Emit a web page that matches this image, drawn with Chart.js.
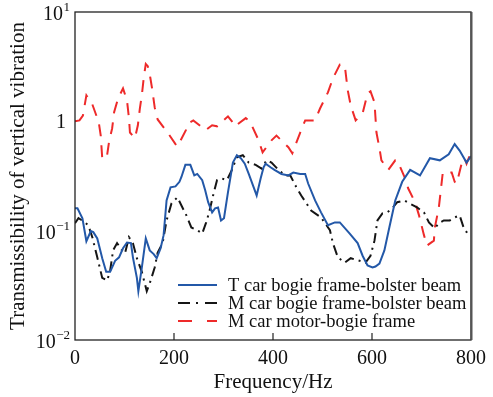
<!DOCTYPE html>
<html>
<head>
<meta charset="utf-8">
<script src="https://cdn.jsdelivr.net/npm/chart.js@4/dist/chart.umd.min.js"></script>
<style>
html,body{margin:0;padding:0;background:#fff;}
#wrap{width:493px;height:397px;position:relative;}
</style>
</head>
<body>
<div id="wrap"><canvas id="c" width="493" height="397"></canvas></div>
<script>
// ---- data ----
const seriesLabels = ['T car bogie frame-bolster beam', 'M car bogie frame-bolster beam', 'M car motor-bogie frame'];

const tFreq = [0,5,15,23,32,37,45,55,63,71,81,89,97,105,113,117,125,128,135,143,151,159,165,173,179,185,193,203,211,215,223,233,241,247,257,263,269,277,283,289,295,301,309,319,327,335,343,351,361,367,375,381,385,395,403,417,431,441,455,465,471,485,497,511,525,535,555,571,581,591,601,607,615,625,635,647,661,677,697,717,737,755,767,777,791,800];
const tVal = [0.160,0.160,0.130,0.080,0.099,0.097,0.085,0.056,0.042,0.042,0.053,0.057,0.069,0.078,0.077,0.057,0.037,0.028,0.046,0.085,0.066,0.061,0.056,0.069,0.091,0.189,0.249,0.254,0.28,0.31,0.40,0.40,0.32,0.33,0.29,0.234,0.182,0.147,0.160,0.163,0.124,0.130,0.224,0.42,0.49,0.46,0.41,0.33,0.249,0.21,0.30,0.38,0.41,0.38,0.36,0.33,0.32,0.34,0.33,0.33,0.27,0.189,0.147,0.112,0.119,0.119,0.094,0.077,0.059,0.048,0.046,0.047,0.050,0.066,0.107,0.189,0.28,0.36,0.32,0.46,0.44,0.50,0.62,0.54,0.42,0.48];

const mFreq = [0,7,17,27,35,45,55,65,71,77,85,95,101,109,117,125,135,145,151,161,167,177,185,195,207,215,225,235,247,257,265,271,279,287,297,307,317,327,339,351,365,377,387,397,411,425,435,445,457,477,497,515,521,531,545,557,575,587,597,605,611,621,631,641,651,665,675,691,705,715,727,735,745,757,767,777,785,795];
const mVal = [0.117,0.130,0.122,0.112,0.087,0.057,0.037,0.035,0.043,0.066,0.077,0.066,0.062,0.087,0.077,0.056,0.042,0.028,0.033,0.046,0.063,0.077,0.124,0.178,0.202,0.170,0.138,0.107,0.101,0.094,0.119,0.147,0.210,0.29,0.30,0.29,0.36,0.47,0.49,0.42,0.40,0.37,0.44,0.42,0.36,0.32,0.32,0.26,0.21,0.153,0.132,0.101,0.077,0.057,0.051,0.056,0.053,0.051,0.059,0.081,0.124,0.144,0.147,0.160,0.182,0.189,0.178,0.163,0.147,0.119,0.105,0.117,0.124,0.124,0.132,0.138,0.107,0.091];

const motorFreq = [0,9,16,23,35,48,52,55,64,69,75,79,87,97,105,109,111,121,127,131,135,139,143,147,152,156,161,167,187,203,207,224,229,239,264,277,287,309,317,323,345,351,357,371,379,397,407,431,439,455,465,485,495,511,521,535,545,551,557,567,581,591,597,605,609,615,619,633,647,651,667,673,687,695,705,711,725,727,735,739,743,761,767,771,781,787,791,800];
const motorVal = [1.0,1.02,1.13,1.73,1.43,0.98,0.74,0.46,0.46,0.66,0.86,1.21,1.62,2.0,1.56,1.07,0.79,0.70,0.92,1.31,1.73,2.53,3.35,3.2,2.53,1.96,1.34,1.04,0.79,0.62,0.59,0.83,0.96,1.02,0.83,0.92,0.90,1.11,1.0,0.90,1.07,1.02,0.92,0.67,0.52,0.67,0.74,0.58,0.51,0.79,1.02,1.02,1.31,1.84,2.47,3.3,3.25,1.92,1.40,1.02,1.18,1.80,1.88,1.49,0.79,0.57,0.44,0.36,0.44,0.44,0.30,0.244,0.182,0.138,0.091,0.073,0.081,0.107,0.163,0.234,0.34,0.34,0.28,0.27,0.41,0.46,0.41,0.52];

const xTickValues = [0,200,400,600,800];
const yTickValues = [10,1,0.1,0.01];
const yTickBase = ['10','1','10','10'];
const yTickExp = ['1','','\u22121','\u22122'];
const xTitle = 'Frequency/Hz';
const yTitle = 'Transmissibility of vertical vibration';

// ---- chart ----
const FONT = "'Liberation Serif', 'Times New Roman', serif";
const pts = (f, v) => f.map((x, i) => ({x: x, y: v[i]}));

const framePlugin = {
  id: 'frame',
  afterDraw(chart) {
    const ctx = chart.ctx;
    const a = chart.chartArea;
    const xs = chart.scales.x, ys = chart.scales.y;
    ctx.save();
    // frame
    ctx.strokeStyle = '#222';
    ctx.lineWidth = 1.3;
    ctx.strokeRect(a.left, a.top, a.right - a.left, a.bottom - a.top);
    ctx.strokeStyle = '#555';
    ctx.lineWidth = 2;
    ctx.beginPath(); ctx.moveTo(a.right + 0.5, a.top); ctx.lineTo(a.right + 0.5, a.bottom); ctx.stroke();
    // inner x ticks
    ctx.strokeStyle = '#222';
    ctx.lineWidth = 1.2;
    xTickValues.forEach(v => {
      if (v === 0 || v === 800) return;
      const x = xs.getPixelForValue(v);
      ctx.beginPath(); ctx.moveTo(x, a.bottom); ctx.lineTo(x, a.bottom - 7); ctx.stroke();
    });
    // y tick labels with superscripts
    ctx.fillStyle = '#111';
    yTickValues.forEach((v, i) => {
      const y = ys.getPixelForValue(v);
      if (yTickExp[i] === '') {
        ctx.font = '20px ' + FONT;
        ctx.textAlign = 'right'; ctx.textBaseline = 'middle';
        ctx.fillText(yTickBase[i], 66, y + 1);
      } else {
        ctx.font = '13px ' + FONT;
        const ew = ctx.measureText(yTickExp[i]).width;
        const right = 70;
        ctx.textAlign = 'right'; ctx.textBaseline = 'middle';
        ctx.fillText(yTickExp[i], right, y - 4);
        ctx.font = '20px ' + FONT;
        ctx.fillText(yTickBase[i], right - ew - 0.5, y + 3);
      }
    });
    // legend
    const lx0 = 178, lx1 = 217, tx = 228;
    const rows = [285, 303, 321];
    chart.data.datasets.forEach((ds, i) => {
      const y = rows[i];
      ctx.strokeStyle = ds.borderColor;
      ctx.lineWidth = ds.borderWidth;
      ctx.setLineDash(ds.legendDash || []);
      ctx.beginPath(); ctx.moveTo(lx0, y); ctx.lineTo(lx1, y); ctx.stroke();
      ctx.setLineDash([]);
      ctx.fillStyle = '#111';
      ctx.font = '18.5px ' + FONT;
      ctx.textAlign = 'left'; ctx.textBaseline = 'middle';
      ctx.fillText(ds.label, tx, y + 1);
    });
    ctx.restore();
  }
};

new Chart(document.getElementById('c'), {
  type: 'line',
  data: {
    datasets: [
      {label: seriesLabels[0], data: pts(tFreq, tVal), borderColor: '#2358a8', borderWidth: 2, pointRadius: 0, tension: 0, fill: false, legendDash: []},
      {label: seriesLabels[1], data: pts(mFreq, mVal), borderColor: '#151515', borderWidth: 2, borderDash: [10,5,2,5], pointRadius: 0, tension: 0, fill: false, legendDash: [12,6,2,7]},
      {label: seriesLabels[2], data: pts(motorFreq, motorVal), borderColor: '#ee2a2a', borderWidth: 2, borderDash: [12,9], pointRadius: 0, tension: 0, fill: false, legendDash: [14,15]}
    ]
  },
  options: {
    responsive: false,
    animation: false,
    layout: {padding: {top: 12, right: 18, left: 0, bottom: 0}},
    plugins: {legend: {display: false}, tooltip: {enabled: false}},
    scales: {
      x: {
        type: 'linear', min: 0, max: 800,
        grid: {display: false, drawTicks: false},
        border: {display: false},
        ticks: {
          stepSize: 200, color: '#111', padding: 7,
          font: {family: FONT, size: 20},
          maxRotation: 0
        },
        title: {display: true, text: xTitle, color: '#111', font: {family: FONT, size: 21}, padding: {top: 0, bottom: 2}},
        afterFit(s) { s.height = 57; }
      },
      y: {
        type: 'logarithmic', min: 0.01, max: 10,
        grid: {display: false, drawTicks: false},
        border: {display: false},
        ticks: {display: false},
        title: {display: true, text: yTitle, color: '#111', font: {family: FONT, size: 21}, padding: {top: 6, bottom: 0}},
        afterFit(s) { s.width = 75; }
      }
    }
  },
  plugins: [framePlugin]
});
</script>
</body>
</html>
